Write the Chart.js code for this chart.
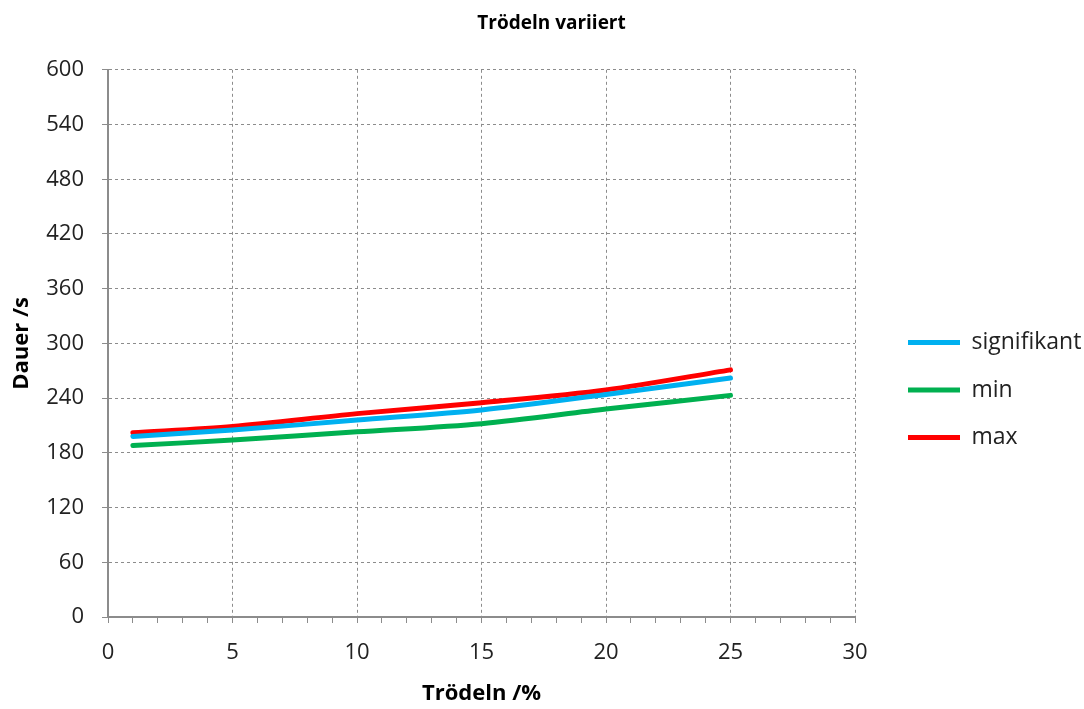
<!DOCTYPE html>
<html>
<head>
<meta charset="utf-8">
<script src="https://cdn.jsdelivr.net/npm/chart.js@4/dist/chart.umd.min.js"></script>
<style>
  html, body { margin: 0; padding: 0; background: #fff; }
  #wrap { width: 1084px; height: 709px; }
</style>
</head>
<body>
<div id="wrap"><canvas id="chart" width="1084" height="709"></canvas></div>
<script>
// Werte
const troedeln = [1, 5, 10, 15, 20, 25];
const signifikant = [198, 205, 216, 227, 244, 262];
const minWerte = [188, 194, 203, 212, 228, 243];
const maxWerte = [202, 209, 223, 235, 249, 271];

const FONT = "'Open Sans', Lato, sans-serif";
const gridGrey = '#8c8c8c';

function punkte(werte) {
  return troedeln.map((x, i) => ({ x: x, y: werte[i] }));
}

function serie(label, werte, farbe) {
  return {
    label: label,
    data: punkte(werte),
    borderColor: farbe,
    backgroundColor: farbe,
    borderWidth: 5,
    borderCapStyle: 'round',
    pointRadius: 0,
    tension: 0.3,
    fill: false
  };
}

// Legende weiter vom Diagramm abrücken, Titel leicht verschieben (wie im Excel-Original)
const LEG_W = 228;
const LEG_DX = 28.5;
const LEG_DY = 65;
const TITLE_DX = 10;
const layoutFix = {
  id: 'layoutFix',
  beforeLayout(chart) {
    const lg = chart.legend;
    if (lg && !lg._fix) {
      lg._fix = true;
      const fit = lg.fit;
      lg.fit = function () {
        fit.call(this);
        this.width = LEG_W;
      };
      const draw = lg.draw;
      lg.draw = function () {
        this.left += LEG_DX;
        this.top += LEG_DY;
        draw.apply(this, arguments);
        this.left -= LEG_DX;
        this.top -= LEG_DY;
      };
    }
    const tb = chart.titleBlock;
    if (tb && !tb._fix) {
      tb._fix = true;
      const tdraw = tb.draw;
      tb.draw = function () {
        this.left += TITLE_DX;
        this.right += TITLE_DX;
        tdraw.apply(this, arguments);
        this.left -= TITLE_DX;
        this.right -= TITLE_DX;
      };
    }
  }
};

const ctx = document.getElementById('chart').getContext('2d');
new Chart(ctx, {
  type: 'line',
  data: {
    datasets: [
      serie('signifikant', signifikant, '#00b0f0'),
      serie('min', minWerte, '#00b050'),
      serie('max', maxWerte, '#ff0000')
    ]
  },
  options: {
    responsive: false,
    animation: false,
    layout: { padding: { left: 0, right: 1, top: 8, bottom: 2 } },
    plugins: {
      title: {
        display: true,
        text: 'Trödeln variiert',
        color: '#000',
        font: { family: FONT, size: 19, weight: 'bold' },
        padding: { top: 4, bottom: 35 }
      },
      legend: {
        position: 'right',
        labels: {
          usePointStyle: true,
          pointStyle: 'line',
          pointStyleWidth: 52,
          color: '#222',
          font: { family: FONT, size: 23 },
          padding: 24.5
        }
      },
      tooltip: { enabled: false }
    },
    scales: {
      x: {
        type: 'linear',
        min: 0,
        max: 30,
        afterFit: s => { s.height = 90; },
        ticks: {
          stepSize: 1,
          autoSkip: false,
          maxRotation: 0,
          color: '#222',
          font: { family: FONT, size: 22 },
          padding: 17,
          callback: v => (v % 5 === 0 ? v : '')
        },
        grid: {
          color: c => (c.tick && c.tick.value % 5 === 0 ? gridGrey : 'rgba(0,0,0,0)'),
          tickColor: gridGrey,
          tickLength: 6,
          lineWidth: 1
        },
        border: { color: gridGrey, width: 2, dash: [3, 3] },
        title: {
          display: true,
          text: 'Trödeln /%',
          color: '#000',
          font: { family: FONT, size: 22, weight: 'bold' },
          padding: { top: 14, bottom: 0 }
        }
      },
      y: {
        min: 0,
        max: 600,
        afterFit: s => { s.width = 108; },
        ticks: {
          stepSize: 60,
          color: '#222',
          font: { family: FONT, size: 22 },
          padding: 18
        },
        grid: {
          color: gridGrey,
          tickColor: gridGrey,
          tickLength: 6,
          lineWidth: 1
        },
        border: { color: gridGrey, width: 2, dash: [3, 3] },
        title: {
          display: true,
          text: 'Dauer /s',
          color: '#000',
          font: { family: FONT, size: 22, weight: 'bold' },
          padding: { top: 9, bottom: 11 }
        }
      }
    }
  },
  plugins: [layoutFix]
});
</script>
</body>
</html>
